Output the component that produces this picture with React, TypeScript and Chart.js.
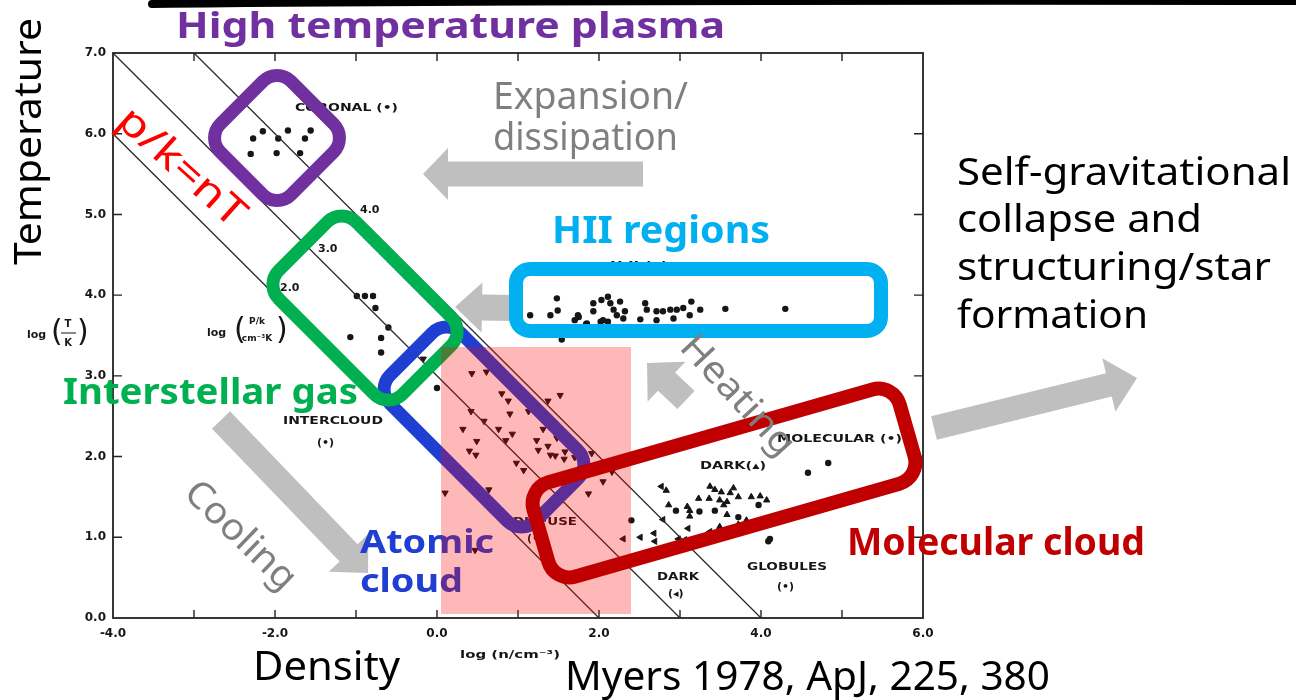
import React, { useEffect, useRef } from "react";
import { Chart, registerables } from "chart.js";
Chart.register(...registerables);

// ---- axes ----
const X_MIN = -4, X_MAX = 6, Y_MIN = 0, Y_MAX = 7;
const xLabelValues = [-4, -2, 0, 2, 4, 6];
const yLabelValues = [0, 1, 2, 3, 4, 5, 6, 7];
// isobars log(p/k) = log n + log T
const pressureLevels = [2, 3, 4];

// ---- data (log n, log T) ----
const coronalX = [-2.15, -1.84, -1.56, -2.27, -1.96, -1.63, -2.3, -1.98, -1.69];
const coronalY = [6.03, 6.04, 6.04, 5.94, 5.94, 5.94, 5.75, 5.76, 5.76];

const hiiX = [1.15, 1.4, 1.49, 1.48, 1.7, 1.74, 1.85, 1.93, 1.93, 2.03, 2.11, 2.14, 2.18, 2.22, 2.11, 2.05, 2.26, 2.32, 2.3, 2.57, 2.59, 2.51, 2.71, 2.79, 2.88, 2.96, 3.04, 3.14, 3.12, 3.25, 2.71, 2.92, 3.56, 4.3, 1.84, 1.75, 2.02, 1.54];
const hiiY = [3.75, 3.75, 3.81, 3.96, 3.69, 3.75, 3.65, 3.8, 3.9, 3.94, 3.98, 3.9, 3.82, 3.75, 3.67, 3.69, 3.92, 3.8, 3.71, 3.9, 3.82, 3.7, 3.8, 3.8, 3.82, 3.82, 3.84, 3.92, 3.75, 3.82, 3.69, 3.71, 3.83, 3.83, 3.64, 3.73, 3.67, 3.45];

const interX = [-0.99, -0.89, -0.79, -0.76, -0.6, -1.07, -0.69, -0.69, 0.0];
const interY = [3.99, 3.99, 3.99, 3.84, 3.6, 3.48, 3.47, 3.29, 2.85];

const diffX = [-0.17, 0.43, 0.61, 0.8, 0.88, 1.52, 1.37, 0.42, 0.9, 1.13, 0.58, 0.32, 0.76, 1.31, 0.93, 0.49, 0.85, 1.23, 1.48, 0.4, 0.48, 1.25, 1.37, 1.4, 1.46, 1.58, 1.57, 0.98, 1.07, 1.7, 1.91, 2.05, 2.16, 0.1, 0.64, 1.48, 1.87, 2.05, 0.47];
const diffY = [3.21, 3.03, 3.05, 2.78, 2.69, 2.76, 2.69, 2.56, 2.53, 2.56, 2.44, 2.34, 2.34, 2.34, 2.28, 2.19, 2.2, 2.2, 2.23, 2.07, 2.02, 2.08, 2.13, 2.02, 2.01, 2.06, 1.97, 1.92, 1.83, 1.99, 2.04, 1.9, 1.81, 1.55, 1.59, 1.67, 1.54, 1.69, 0.84];

const darkLX = [2.3, 2.51, 2.68, 2.69, 2.98, 3.06, 2.77, 2.79, 3.1, 3.37];
const darkLY = [0.98, 1.0, 1.05, 0.95, 0.98, 0.97, 1.63, 1.22, 1.11, 1.07];

const darkUX = [2.83, 2.86, 3.09, 3.12, 3.12, 3.37, 3.43, 3.51, 3.62, 3.66, 3.23, 3.36, 3.49, 3.58, 3.72, 3.54, 3.58, 3.88, 3.99, 4.07, 3.82, 3.72, 4.07, 3.49];
const darkUY = [1.58, 1.4, 1.38, 1.33, 1.26, 1.63, 1.59, 1.56, 1.55, 1.61, 1.48, 1.48, 1.46, 1.44, 1.5, 1.4, 1.28, 1.5, 1.51, 1.46, 1.21, 1.16, 1.22, 1.13];

const globX = [4.11, 4.09, 2.4, 2.95, 3.24, 3.43, 3.97, 3.72];
const globY = [0.98, 0.95, 1.21, 1.33, 1.32, 1.33, 1.4, 1.25];

const molX = [4.58, 4.83];
const molY = [1.8, 1.92];

const pts = (xs: number[], ys: number[]) => xs.map((x, i) => ({ x, y: ys[i] }));

const INK = "#161616";
const SANS = '"Noto Sans", "DejaVu Sans", sans-serif';
const FIG = '"DejaVu Sans", sans-serif';

function txt(
  ctx: CanvasRenderingContext2D,
  s: string,
  x: number,
  y: number,
  o: { size: number; weight?: string; color: string; family?: string; width?: number; align?: CanvasTextAlign; base?: CanvasTextBaseline; angle?: number }
) {
  ctx.save();
  ctx.font = `${o.weight || "normal"} ${o.size}px ${o.family || SANS}`;
  ctx.fillStyle = o.color;
  ctx.textAlign = o.align || "left";
  ctx.textBaseline = o.base || "alphabetic";
  ctx.translate(x, y);
  if (o.angle) ctx.rotate((o.angle * Math.PI) / 180);
  if (o.width) {
    const m = ctx.measureText(s).width;
    ctx.scale(o.width / m, 1);
  }
  ctx.fillText(s, 0, 0);
  ctx.restore();
}

function lab(ctx: CanvasRenderingContext2D, s: string, x: number, cy: number, w?: number, size = 11) {
  txt(ctx, s, x, cy, { size, weight: "bold", color: INK, family: FIG, base: "middle", width: w });
}

function roundBox(ctx: CanvasRenderingContext2D, cx: number, cy: number, w: number, h: number, r: number, angle: number, color: string, lw: number) {
  ctx.save();
  ctx.translate(cx, cy);
  ctx.rotate((angle * Math.PI) / 180);
  ctx.beginPath();
  ctx.moveTo(-w / 2 + r, -h / 2);
  ctx.arcTo(w / 2, -h / 2, w / 2, h / 2, r);
  ctx.arcTo(w / 2, h / 2, -w / 2, h / 2, r);
  ctx.arcTo(-w / 2, h / 2, -w / 2, -h / 2, r);
  ctx.arcTo(-w / 2, -h / 2, w / 2, -h / 2, r);
  ctx.closePath();
  ctx.strokeStyle = color;
  ctx.lineWidth = lw;
  ctx.stroke();
  ctx.restore();
}

function arrow(ctx: CanvasRenderingContext2D, x0: number, y0: number, x1: number, y1: number, sw: number, hw: number, hl: number) {
  const dx = x1 - x0, dy = y1 - y0;
  const len = Math.hypot(dx, dy);
  const ux = dx / len, uy = dy / len;
  const px = -uy, py = ux;
  const bx = x1 - ux * hl, by = y1 - uy * hl;
  ctx.save();
  ctx.fillStyle = "#BFBFBF";
  ctx.beginPath();
  ctx.moveTo(x0 + (px * sw) / 2, y0 + (py * sw) / 2);
  ctx.lineTo(bx + (px * sw) / 2, by + (py * sw) / 2);
  ctx.lineTo(bx + (px * hw) / 2, by + (py * hw) / 2);
  ctx.lineTo(x1, y1);
  ctx.lineTo(bx - (px * hw) / 2, by - (py * hw) / 2);
  ctx.lineTo(bx - (px * sw) / 2, by - (py * sw) / 2);
  ctx.lineTo(x0 - (px * sw) / 2, y0 - (py * sw) / 2);
  ctx.closePath();
  ctx.fill();
  ctx.restore();
}

const figurePlugin = {
  id: "figure",
  beforeDatasetsDraw(chart: any) {
    const ctx: CanvasRenderingContext2D = chart.ctx;
    const xs = chart.scales.x, ys = chart.scales.y;
    const { left, right, top, bottom } = chart.chartArea;
    ctx.save();
    ctx.strokeStyle = "#222";
    ctx.lineWidth = 1.8;
    ctx.strokeRect(left, top, right - left, bottom - top);
    ctx.lineWidth = 1.4;
    ctx.beginPath();
    for (let v = X_MIN + 1; v < X_MAX; v++) {
      const p = xs.getPixelForValue(v);
      ctx.moveTo(p, bottom); ctx.lineTo(p, bottom - 8);
      ctx.moveTo(p, top); ctx.lineTo(p, top + 8);
    }
    for (let v = Y_MIN + 1; v < Y_MAX; v++) {
      const p = ys.getPixelForValue(v);
      ctx.moveTo(left, p); ctx.lineTo(left + 9, p);
      ctx.moveTo(right, p); ctx.lineTo(right - 9, p);
    }
    ctx.stroke();
    ctx.restore();

    // figure labels
    lab(ctx, "CORONAL (•)", 295, 108, 103);
    lab(ctx, "4.0", 360, 210);
    lab(ctx, "3.0", 318, 249);
    lab(ctx, "2.0", 280, 288);
    lab(ctx, "INTERCLOUD", 283, 421, 100);
    lab(ctx, "(•)", 317, 443);
    lab(ctx, "DIFFUSE", 513, 522, 64);
    lab(ctx, "(•)", 527, 539);
    lab(ctx, "H II (•)", 610, 266, 58);
    lab(ctx, "DARK(▴)", 700, 466, 66);
    lab(ctx, "MOLECULAR (•)", 777, 439, 125);
    lab(ctx, "DARK", 657, 577, 42);
    lab(ctx, "(◂)", 668, 594);
    lab(ctx, "GLOBULES", 747, 567, 80);
    lab(ctx, "(•)", 777, 587);
    lab(ctx, "log (n/cm⁻³)", 460, 655, 100);

    // log(P/k / cm-3 K)
    lab(ctx, "log", 207, 333);
    txt(ctx, "(", 234, 331, { size: 30, color: INK, family: FIG, base: "middle" });
    txt(ctx, ")", 276, 331, { size: 30, color: INK, family: FIG, base: "middle" });
    txt(ctx, "P/k", 257, 322, { size: 9, weight: "bold", color: INK, family: FIG, base: "middle", align: "center" });
    txt(ctx, "cm⁻³K", 257, 339, { size: 9, weight: "bold", color: INK, family: FIG, base: "middle", align: "center" });
    // log(T/K)
    lab(ctx, "log", 27, 335);
    txt(ctx, "(", 51, 333, { size: 30, color: INK, family: FIG, base: "middle" });
    txt(ctx, ")", 77, 333, { size: 30, color: INK, family: FIG, base: "middle" });
    txt(ctx, "T", 68, 324, { size: 10, weight: "bold", color: INK, family: FIG, base: "middle", align: "center" });
    ctx.save();
    ctx.strokeStyle = INK; ctx.lineWidth = 1;
    ctx.beginPath(); ctx.moveTo(61, 333); ctx.lineTo(76, 333); ctx.stroke();
    ctx.restore();
    txt(ctx, "K", 68, 343, { size: 10, weight: "bold", color: INK, family: FIG, base: "middle", align: "center" });
  },
  afterDraw(chart: any) {
    const ctx: CanvasRenderingContext2D = chart.ctx;
    // arrows
    arrow(ctx, 643, 174, 423, 174, 25, 52, 25);
    arrow(ctx, 515, 308, 455, 307, 26, 50, 27);
    arrow(ctx, 686, 400, 647, 363, 25, 55, 27);
    arrow(ctx, 221, 420, 368, 573, 25, 55, 28);
    arrow(ctx, 934, 428, 1137, 378, 24, 55, 29);

    // boxes under the pink overlay
    roundBox(ctx, 484, 427, 206, 100, 20, 45, "#1F3FD3", 13);
    roundBox(ctx, 365, 308, 175, 109, 20, 45, "#00B050", 13);
    roundBox(ctx, 277, 138, 100, 100, 20, 45, "#7030A0", 13);

    txt(ctx, "Atomic", 360, 553, { size: 33, weight: "bold", color: "#1F3FD3", width: 134 });
    txt(ctx, "cloud", 360, 592, { size: 33, weight: "bold", color: "#1F3FD3", width: 103 });
    txt(ctx, "Interstellar gas", 63, 404, { size: 36, weight: "bold", color: "#00B050", width: 295 });

    // pink overlay
    ctx.save();
    ctx.fillStyle = "rgba(255,0,0,0.28)";
    ctx.fillRect(441, 347, 190, 267);
    ctx.restore();

    roundBox(ctx, 724, 483, 381, 98, 22, -16, "#C00000", 14);
    roundBox(ctx, 698.5, 300, 365, 62, 14, 0, "#00B0F0", 14);

    const gray = "#7F7F7F";
    txt(ctx, "High temperature plasma", 176, 38, { size: 36, weight: "bold", color: "#7030A0", width: 549 });
    txt(ctx, "Expansion/", 493, 109, { size: 38, color: gray, width: 195 });
    txt(ctx, "dissipation", 493, 150, { size: 38, color: gray, width: 185 });
    txt(ctx, "HII regions", 552, 243, { size: 37, weight: "bold", color: "#00B0F0", width: 218 });
    txt(ctx, "Self-gravitational", 957, 185, { size: 39, color: "#000", width: 334 });
    txt(ctx, "collapse and", 957, 232, { size: 39, color: "#000", width: 245 });
    txt(ctx, "structuring/star", 957, 280, { size: 39, color: "#000", width: 314 });
    txt(ctx, "formation", 957, 328, { size: 39, color: "#000", width: 191 });
    txt(ctx, "Molecular cloud", 847, 555, { size: 38, weight: "bold", color: "#C00000", width: 298 });
    txt(ctx, "Cooling", 240, 536, { size: 37, color: gray, align: "center", base: "middle", angle: 44, width: 140 });
    txt(ctx, "Heating", 737, 396, { size: 37, color: gray, align: "center", base: "middle", angle: 47, width: 150 });
    txt(ctx, "p/k=nT", 181, 168, { size: 40, color: "#FF0000", align: "center", base: "middle", angle: 42, width: 158 });
    txt(ctx, "Density", 253, 680, { size: 40, color: "#000", width: 147 });
    txt(ctx, "Myers 1978, ApJ, 225, 380", 565, 690, { size: 40, color: "#000", width: 485 });
    txt(ctx, "Temperature", 41, 265, { size: 39, color: "#000", angle: -90, width: 247 });

    // top black stroke
    ctx.save();
    ctx.strokeStyle = "#000";
    ctx.lineWidth = 8;
    ctx.lineCap = "round";
    ctx.beginPath();
    ctx.moveTo(152, 4);
    ctx.quadraticCurveTo(500, 0, 1300, 1);
    ctx.stroke();
    ctx.restore();
  },
};

export default function App() {
  const ref = useRef<HTMLCanvasElement | null>(null);
  useEffect(() => {
    if (!ref.current) return;
    const dot = { pointStyle: "circle", pointRadius: 3.2, backgroundColor: INK, borderColor: INK, borderWidth: 0, showLine: false };
    const tri = { pointStyle: "triangle", pointRadius: 3.6, backgroundColor: INK, borderColor: INK, borderWidth: 1, showLine: false };
    const isobars = pressureLevels.map((c) => {
      const x0 = Math.max(X_MIN, c - Y_MAX);
      const x1 = Math.min(X_MAX, c - Y_MIN);
      return {
        label: `log p/k = ${c}`,
        data: [{ x: x0, y: c - x0 }, { x: x1, y: c - x1 }],
        showLine: true,
        borderColor: "#2a2a2a",
        borderWidth: 1.3,
        pointRadius: 0,
        fill: false,
      };
    });
    const chart = new Chart(ref.current, {
      type: "scatter",
      data: {
        datasets: [
          ...isobars,
          { label: "Coronal", data: pts(coronalX, coronalY), ...dot },
          { label: "HII", data: pts(hiiX, hiiY), ...dot },
          { label: "Intercloud", data: pts(interX, interY), ...dot },
          { label: "Diffuse", data: pts(diffX, diffY), ...tri, rotation: 180 },
          { label: "Dark (<)", data: pts(darkLX, darkLY), ...tri, rotation: -90 },
          { label: "Dark (▲)", data: pts(darkUX, darkUY), ...tri },
          { label: "Globules", data: pts(globX, globY), ...dot },
          { label: "Molecular", data: pts(molX, molY), ...dot },
        ] as any,
      },
      options: {
        animation: false,
        responsive: false,
        layout: { padding: { left: 0, top: 53, right: 373, bottom: 0 } },
        plugins: { legend: { display: false }, tooltip: { enabled: false } },
        scales: {
          x: {
            type: "linear",
            min: X_MIN,
            max: X_MAX,
            grid: { display: false, drawTicks: false },
            border: { display: false },
            ticks: {
              stepSize: 1,
              autoSkip: false,
              maxRotation: 0,
              padding: 9,
              color: INK,
              font: { family: "DejaVu Sans", size: 12, weight: "bold" },
              callback: (v: any) => (xLabelValues.includes(Number(v)) ? Number(v).toFixed(1) : ""),
            },
            afterFit: (s: any) => { s.height = 82; },
          },
          y: {
            type: "linear",
            min: Y_MIN,
            max: Y_MAX,
            grid: { display: false, drawTicks: false },
            border: { display: false },
            ticks: {
              stepSize: 1,
              autoSkip: false,
              padding: 7,
              color: INK,
              font: { family: "DejaVu Sans", size: 12, weight: "bold" },
              callback: (v: any) => (yLabelValues.includes(Number(v)) ? Number(v).toFixed(1) : ""),
            },
            afterFit: (s: any) => { s.width = 113; },
          },
        },
      } as any,
      plugins: [figurePlugin],
    });
    return () => chart.destroy();
  }, []);
  return (
    <div style={{ position: "absolute", left: 0, top: 0, width: 1296, height: 700, background: "#fff" }}>
      <canvas ref={ref} width={1296} height={700} style={{ display: "block" }} />
    </div>
  );
}
